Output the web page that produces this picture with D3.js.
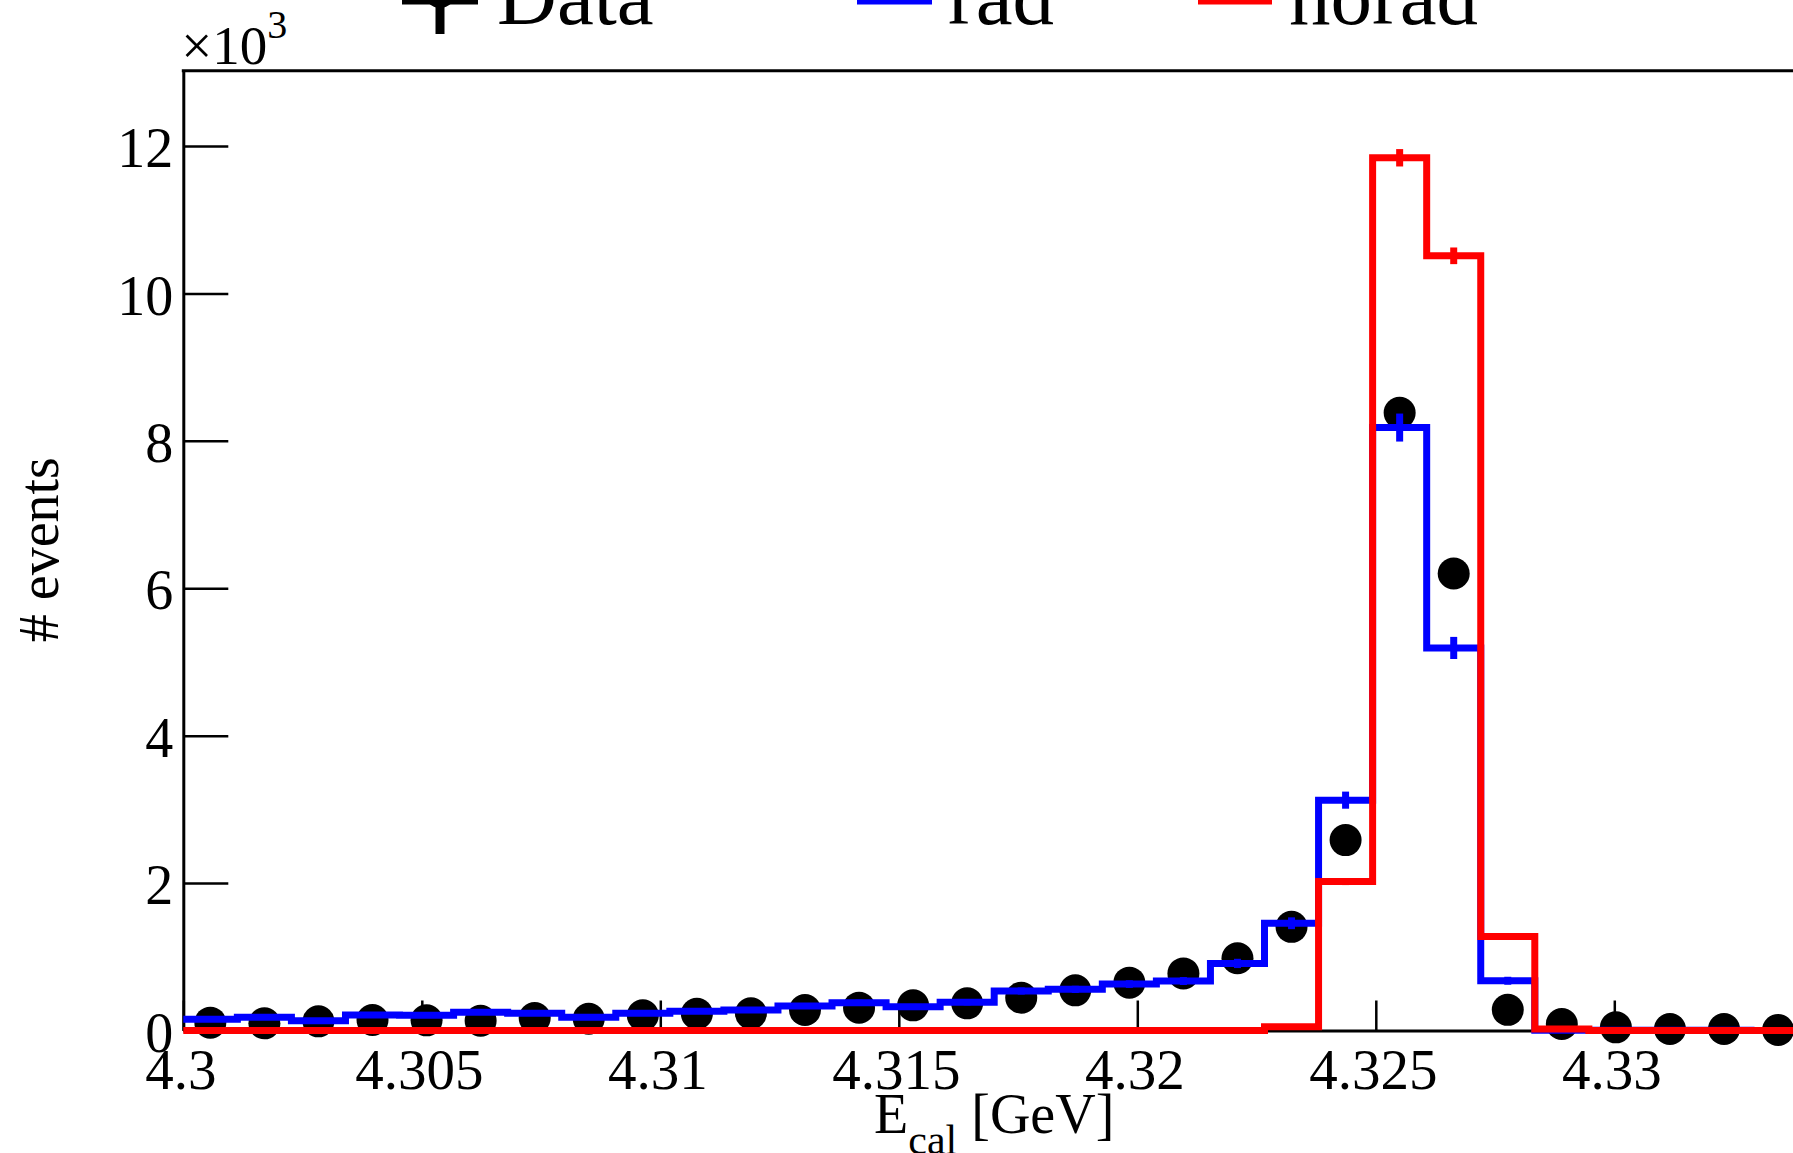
<!DOCTYPE html>
<html>
<head>
<meta charset="utf-8">
<script src="https://cdn.jsdelivr.net/npm/d3@7"></script>
<style>
body { margin: 0; background: #fff; }
svg { display: block; overflow: hidden; }
text { font-family: "Liberation Serif", "Times New Roman", serif; fill: #000; }
</style>
</head>
<body>
<div id="chart"></div>
<script>
const width = 1793;
const height = 1153;

// histogram binning: 30 bins from 4.300 to 4.334 GeV
const binLow = 4.3;
const binHigh = 4.334;
const numBins = 30;

// counts per bin
const dataCounts = [106, 97, 124, 142, 138, 133, 169, 160, 206, 228,
    233, 278, 310, 341, 368, 445, 545, 649, 775, 980,
    1406, 2583, 8380, 6200, 280, 88, 43, 20, 20, 7];
const radCounts = [152, 179, 133, 210, 206, 247, 233, 179, 233, 260,
    278, 332, 377, 323, 382, 536, 558, 630, 671, 910,
    1455, 3125, 8180, 5190, 675, 5, 3, 2, 2, 1];
const radErrors = [26, 28, 24, 30, 30, 33, 32, 28, 32, 34,
    35, 38, 41, 38, 41, 48, 49, 52, 54, 63,
    80, 116, 190, 150, 54, 5, 4, 3, 3, 2];
const noradCounts = [0, 0, 0, 0, 0, 0, 0, 0, 0, 0,
    0, 0, 0, 0, 0, 0, 0, 0, 0, 0,
    50, 2020, 11840, 10510, 1276, 20, 0, 0, 0, 0];
const noradErrors = [0, 0, 0, 0, 0, 0, 0, 0, 0, 0,
    0, 0, 0, 0, 0, 0, 0, 0, 0, 0,
    15, 47, 118, 113, 37, 5, 0, 0, 0, 0];

const xTickValues = [4.3, 4.305, 4.31, 4.315, 4.32, 4.325, 4.33];
const xTickLabels = ['4.3', '4.305', '4.31', '4.315', '4.32', '4.325', '4.33'];
const yTickValues = [0, 2000, 4000, 6000, 8000, 10000, 12000];
const yTickLabels = ['0', '2', '4', '6', '8', '10', '12'];
const yMax = 13020;

const legendLabels = ['Data', 'rad', 'norad'];

const radColor = '#0000ff';
const noradColor = '#ff0000';

// frame (the right edge runs a little past the page)
const plotLeft = 183.3;
const plotRight = 1805.1;
const plotTop = 70.8;
const plotBottom = 1030.5;

const histLineWidth = 7;
const markerRadius = 16;
const labelSize = 56;

const svg = d3.select('#chart').append('svg')
    .attr('width', width)
    .attr('height', height);

const x = d3.scaleLinear().domain([binLow, binHigh]).range([plotLeft, plotRight]);
const y = d3.scaleLinear().domain([0, yMax]).range([plotBottom, plotTop]);

const binWidth = (binHigh - binLow) / numBins;
const binEdges = d3.range(numBins + 1).map(i => binLow + i * binWidth);
const binCenters = d3.range(numBins).map(i => binLow + (i + 0.5) * binWidth);

// axes
const xAxis = d3.axisBottom(x)
    .tickValues(xTickValues)
    .tickFormat((d, i) => xTickLabels[i])
    .tickSizeInner(-30)
    .tickSizeOuter(0)
    .tickPadding(18);
const xAxisGroup = svg.append('g')
    .attr('transform', `translate(0,${plotBottom})`)
    .call(xAxis);

const yAxis = d3.axisLeft(y)
    .tickValues(yTickValues)
    .tickFormat((d, i) => yTickLabels[i])
    .tickSizeInner(-45)
    .tickSizeOuter(0)
    .tickPadding(10);
const yAxisGroup = svg.append('g')
    .attr('transform', `translate(${plotLeft},0)`)
    .call(yAxis);

[xAxisGroup, yAxisGroup].forEach(g => {
    g.select('.domain').attr('stroke', '#000').attr('stroke-width', 3);
    g.selectAll('.tick line').attr('stroke', '#000').attr('stroke-width', 2.5);
    g.selectAll('.tick text')
        .attr('font-family', null)
        .style('font-size', `${labelSize}px`)
        .attr('fill', '#000');
});
xAxisGroup.selectAll('.tick text').style('font-size', '57px').attr('dx', '-0.05em');
yAxisGroup.selectAll('.tick text').attr('dy', '0.37em');

svg.append('line')
    .attr('x1', plotLeft - 1.5).attr('x2', plotRight)
    .attr('y1', plotTop).attr('y2', plotTop)
    .attr('stroke', '#000').attr('stroke-width', 3);
svg.append('line')
    .attr('x1', plotRight).attr('x2', plotRight)
    .attr('y1', plotTop).attr('y2', plotBottom)
    .attr('stroke', '#000').attr('stroke-width', 3);

// data points
svg.append('g').selectAll('circle')
    .data(dataCounts)
    .join('circle')
    .attr('cx', (d, i) => x(binCenters[i]))
    .attr('cy', d => y(d))
    .attr('r', markerRadius)
    .attr('fill', '#000');

// step histograms
const stepLine = d3.line()
    .x(d => x(d[0]))
    .y(d => y(d[1]))
    .curve(d3.curveStepAfter);

function drawHist (counts, errors, color) {
    const points = binEdges.map((edge, i) => [edge, counts[Math.min(i, numBins - 1)]]);
    const g = svg.append('g');
    g.append('path')
        .attr('d', stepLine(points))
        .attr('fill', 'none')
        .attr('stroke', color)
        .attr('stroke-width', histLineWidth)
        .attr('stroke-linejoin', 'miter')
        .attr('stroke-linecap', 'butt');
    g.selectAll('line')
        .data(counts.map((c, i) => ({c, e: errors[i], xc: binCenters[i]})).filter(d => d.e > 0))
        .join('line')
        .attr('x1', d => x(d.xc)).attr('x2', d => x(d.xc))
        .attr('y1', d => y(d.c - d.e)).attr('y2', d => y(d.c + d.e))
        .attr('stroke', color)
        .attr('stroke-width', histLineWidth);
}

drawHist(radCounts, radErrors, radColor);
drawHist(noradCounts, noradErrors, noradColor);

// multiplier
const mult = svg.append('text')
    .attr('x', plotLeft - 2)
    .attr('y', 64)
    .style('font-size', '55px');
mult.append('tspan').text('\u00d710');
mult.append('tspan').attr('dy', -26).style('font-size', '40px').text('3');

// axis titles
const xTitle = svg.append('text')
    .attr('x', (plotLeft + plotRight) / 2)
    .attr('y', 1133)
    .attr('text-anchor', 'middle')
    .style('font-size', `${labelSize}px`)
    .style('white-space', 'pre');
xTitle.append('tspan').text('E');
xTitle.append('tspan').attr('dy', 21).style('font-size', '42px').text('cal');
xTitle.append('tspan').attr('dy', -21).text(' [GeV]');

svg.append('text')
    .attr('transform', `translate(58,${(plotTop + plotBottom) / 2 - 1}) rotate(-90)`)
    .attr('text-anchor', 'middle')
    .style('font-size', `${labelSize}px`)
    .text('# events');

// legend, cut off by the top of the page
const legend = svg.append('g');
const legendText = [497, 948, 1289];
const legendLine = [[402, 478], [857, 932], [1198, 1272]];
const legendColorList = ['#000', radColor, noradColor];

legend.selectAll('text')
    .data(legendLabels)
    .join('text')
    .attr('x', (d, i) => legendText[i])
    .attr('y', 23.5)
    .style('font-size', '83px')
    .text(d => d);

legend.selectAll('line.entry')
    .data(legendLine)
    .join('line')
    .attr('class', 'entry')
    .attr('x1', d => d[0]).attr('x2', d => d[1])
    .attr('y1', 1).attr('y2', 1)
    .attr('stroke', (d, i) => legendColorList[i])
    .attr('stroke-width', histLineWidth);

legend.append('line')
    .attr('x1', 440).attr('x2', 440)
    .attr('y1', -30).attr('y2', 34)
    .attr('stroke', '#000')
    .attr('stroke-width', 9);
legend.append('circle')
    .attr('cx', 440).attr('cy', -8)
    .attr('r', markerRadius)
    .attr('fill', '#000');
</script>
</body>
</html>
